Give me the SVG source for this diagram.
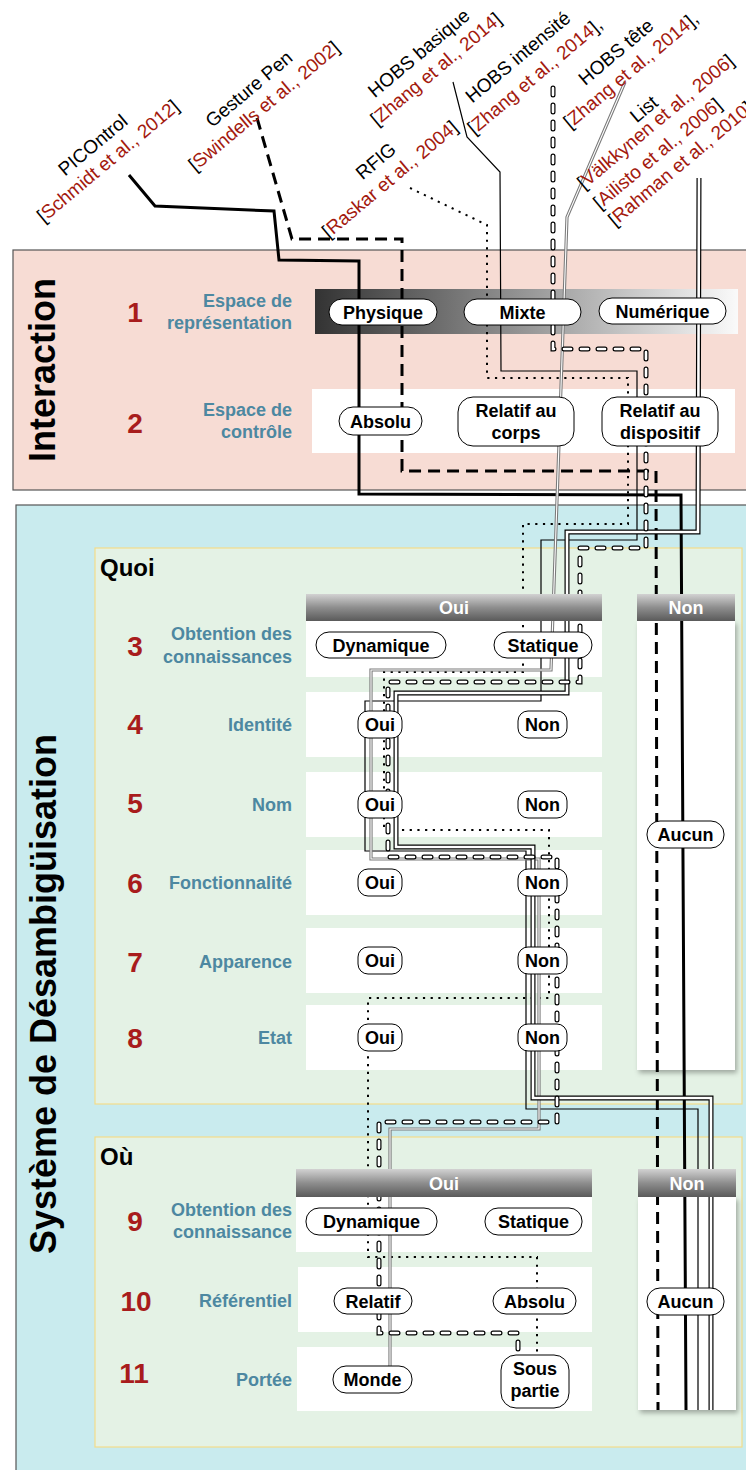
<svg xmlns="http://www.w3.org/2000/svg" xmlns:xlink="http://www.w3.org/1999/xlink" width="746" height="1470" viewBox="0 0 746 1470">
<style>
text{font-family:"Liberation Sans",Arial,sans-serif}
.big{font-size:36px;font-weight:bold;fill:#000;text-anchor:middle}
.sec{font-size:24px;font-weight:bold;fill:#000}
.lbl{font-size:18px;font-weight:bold;fill:#4d88a1;text-anchor:end}
.num{font-size:28px;font-weight:bold;fill:#a81c1c;text-anchor:middle}
.band{fill:#fff}
.node rect{fill:#fff;stroke:#000;stroke-width:1}
.node text{font-size:18px;font-weight:bold;fill:#000;text-anchor:middle}
.hdr rect{fill:url(#hg)}
.hdr text{font-size:18px;font-weight:bold;fill:#fff;text-anchor:middle}
.top text{font-size:19px;fill:#000;text-anchor:middle}
.top text.st{text-anchor:start}
.cit{fill:#a3190e}
.c{fill:none}
.thick{stroke:#000;stroke-width:3}
.tdash{stroke:#000;stroke-width:3;stroke-dasharray:12 7}
.dot{stroke:#000;stroke-width:2;stroke-dasharray:2.2 5.5}
.thin{stroke:#000;stroke-width:1.2}
.holo{stroke:#000;stroke-width:5;stroke-dasharray:7 10;stroke-linecap:round}
.holi{stroke:#fff;stroke-width:2.6;stroke-dasharray:7 10;stroke-linecap:round}
.dblo{stroke:#000;stroke-width:5}
.dbli{stroke:#fff;stroke-width:2.6}
.gryo{stroke:#7a7a7a;stroke-width:3.2}
.gryi{stroke:#fff;stroke-width:1.1}
</style>
<defs>
<linearGradient id="rg" x1="0" y1="0" x2="1" y2="0">
<stop offset="0" stop-color="#333"/><stop offset="1" stop-color="#fafafa"/>
</linearGradient>
<linearGradient id="hg" x1="0" y1="0" x2="0" y2="1">
<stop offset="0" stop-color="#d2d2d2"/><stop offset="0.5" stop-color="#8e8e8e"/><stop offset="1" stop-color="#5a5a5a"/>
</linearGradient>
<filter id="sh" x="-20%" y="-10%" width="140%" height="120%">
<feDropShadow dx="2" dy="3" stdDeviation="2.5" flood-color="#000" flood-opacity="0.3"/>
</filter>
<path id="p-rfig" d="M410,188 L487,225 L487,378 L628,378 L628,524 L523,524 L523,672 L384,672 L384,830 L549,830 L549,998 L368,998 L368,1257 L537,1257 L537,1353"/>
<path id="p-bas" d="M453,82 L467,137 L500,172 L501,371 L637,371 L637,540 L541,540 L541,701 L365,701 L365,851 L526,851 L526,1109 L698,1109 L698,1410"/>
<path id="p-int" d="M553,88 L553,349 L646,349 L646,548 L580,548 L580,682 L388,682 L388,857 L557,857 L557,1122 L379,1122 L379,1333 L518,1333 L518,1355"/>
<path id="p-tete" d="M625,82 L567,217 L551,670 L371,670 L371,859 L539,859 L539,1129 L390,1129 L390,1366"/>
<path id="p-list" d="M699,178 L698,532 L567,532 L567,693 L396,693 L396,847 L533,847 L533,1098 L711,1098 L711,1410"/>
</defs>

<g id="backgrounds">
<rect x="13" y="250" width="760" height="240" fill="#f7dcd4" stroke="#555" stroke-width="1.2"/>
<rect x="16" y="505" width="760" height="1000" fill="#c9ebee" stroke="#555" stroke-width="1.2"/>
<rect x="95" y="548" width="647" height="556" fill="#e4f2e5" stroke="#f3dc8a" stroke-width="1.2"/>
<rect x="95" y="1137" width="647" height="310" fill="#e4f2e5" stroke="#f3dc8a" stroke-width="1.2"/>
</g>

<g id="titles">
<text class="big" transform="translate(55,370) rotate(-90)">Interaction</text>
<text class="big" transform="translate(56,994) rotate(-90)">Système de Désambigüisation</text>
<text class="sec" x="100" y="576">Quoi</text>
<text class="sec" x="100" y="1165">Où</text>
</g>

<g id="row-labels">
<text class="num" x="135" y="322">1</text>
<text class="lbl" x="292" y="307">Espace de</text>
<text class="lbl" x="292" y="329">représentation</text>
<text class="num" x="135" y="433">2</text>
<text class="lbl" x="292" y="416">Espace de</text>
<text class="lbl" x="292" y="438">contrôle</text>
<text class="num" x="135" y="656">3</text>
<text class="lbl" x="292" y="640">Obtention des</text>
<text class="lbl" x="292" y="663">connaissances</text>
<text class="num" x="135" y="734">4</text>
<text class="lbl" x="292" y="731">Identité</text>
<text class="num" x="135" y="813">5</text>
<text class="lbl" x="292" y="811">Nom</text>
<text class="num" x="135" y="893">6</text>
<text class="lbl" x="292" y="889">Fonctionnalité</text>
<text class="num" x="135" y="972">7</text>
<text class="lbl" x="292" y="968">Apparence</text>
<text class="num" x="135" y="1048">8</text>
<text class="lbl" x="292" y="1044">Etat</text>
<text class="num" x="135" y="1231">9</text>
<text class="lbl" x="292" y="1216">Obtention des</text>
<text class="lbl" x="292" y="1238">connaissance</text>
<text class="num" x="136" y="1311">10</text>
<text class="lbl" x="292" y="1307">Référentiel</text>
<text class="num" x="134" y="1383">11</text>
<text class="lbl" x="292" y="1386">Portée</text>
</g>

<g id="bands">
<rect x="315" y="289" width="423" height="45" fill="url(#rg)"/>
<rect class="band" x="312" y="389" width="423" height="64"/>
<rect class="band" x="306" y="621" width="296" height="56"/>
<rect class="band" x="306" y="692" width="296" height="65"/>
<rect class="band" x="306" y="772" width="296" height="65"/>
<rect class="band" x="306" y="850" width="296" height="65"/>
<rect class="band" x="306" y="928" width="296" height="65"/>
<rect class="band" x="306" y="1005" width="296" height="65"/>
<rect class="band" x="637" y="621" width="98" height="449" filter="url(#sh)"/>
<rect class="band" x="296" y="1197" width="296" height="55"/>
<rect class="band" x="298" y="1267" width="294" height="65"/>
<rect class="band" x="297" y="1347" width="295" height="64"/>
<rect class="band" x="638" y="1197" width="98" height="213" filter="url(#sh)"/>
</g>

<g id="connectors">
<path id="c-picontrol" class="c thick" d="M129,175 L155,206 L274,211 L279,260 L359,261 L359,494 L681,495 L686,1410"/>
<path id="c-gesturepen" class="c tdash" d="M257,118 L292,239 L402,239 L402,471 L656,471 L658,1410"/>
<use id="c-rfig" xlink:href="#p-rfig" class="c dot"/>
<use id="c-hobs-basique" xlink:href="#p-bas" class="c thin"/>
<g id="c-hobs-tete"><use xlink:href="#p-tete" class="c gryo"/><use xlink:href="#p-tete" class="c gryi"/></g>
<g id="c-list"><use xlink:href="#p-list" class="c dblo"/><use xlink:href="#p-list" class="c dbli"/></g>
<g id="c-hobs-intensite"><use xlink:href="#p-int" class="c holo"/><use xlink:href="#p-int" class="c holi"/></g>
</g>

<g id="headers">
<g class="hdr" id="h-quoi-oui"><rect x="306" y="594" width="296" height="27"/><text x="454" y="614">Oui</text></g>
<g class="hdr" id="h-quoi-non"><rect x="637" y="594" width="98" height="27"/><text x="686" y="614">Non</text></g>
<g class="hdr" id="h-ou-oui"><rect x="296" y="1169" width="296" height="28"/><text x="444" y="1190">Oui</text></g>
<g class="hdr" id="h-ou-non"><rect x="638" y="1169" width="98" height="28"/><text x="687" y="1190">Non</text></g>
</g>

<g id="nodes">
<g class="node" id="n-physique"><rect x="329" y="299" width="108" height="26" rx="13"/><text x="383" y="318.5">Physique</text></g>
<g class="node" id="n-mixte"><rect x="464" y="299" width="117" height="26" rx="13"/><text x="522.5" y="318.5">Mixte</text></g>
<g class="node" id="n-numerique"><rect x="599" y="298" width="127" height="26" rx="13"/><text x="662.5" y="317.5">Numérique</text></g>
<g class="node" id="n-absolu-ctrl"><rect x="339" y="407" width="83" height="28" rx="14"/><text x="380.5" y="427.5">Absolu</text></g>
<g class="node" id="n-relatif-corps"><rect x="458" y="397" width="116" height="49" rx="15"/><text x="516" y="417">Relatif au</text><text x="516" y="439">corps</text></g>
<g class="node" id="n-relatif-dispositif"><rect x="602" y="397" width="116" height="49" rx="15"/><text x="660" y="417">Relatif au</text><text x="660" y="439">dispositif</text></g>

<g class="node" id="n-q-dynamique"><rect x="316" y="632" width="130" height="26" rx="13"/><text x="381" y="651.5">Dynamique</text></g>
<g class="node" id="n-q-statique"><rect x="494" y="632" width="98" height="26" rx="13"/><text x="543" y="651.5">Statique</text></g>
<g class="node" id="n-identite-oui"><rect x="358" y="711" width="44" height="27" rx="10"/><text x="380" y="731">Oui</text></g>
<g class="node" id="n-identite-non"><rect x="518" y="711" width="49" height="27" rx="10"/><text x="542.5" y="731">Non</text></g>
<g class="node" id="n-nom-oui"><rect x="358" y="791" width="44" height="27" rx="10"/><text x="380" y="811">Oui</text></g>
<g class="node" id="n-nom-non"><rect x="518" y="791" width="49" height="27" rx="10"/><text x="542.5" y="811">Non</text></g>
<g class="node" id="n-fonc-oui"><rect x="358" y="869" width="44" height="27" rx="10"/><text x="380" y="889">Oui</text></g>
<g class="node" id="n-fonc-non"><rect x="518" y="869" width="49" height="27" rx="10"/><text x="542.5" y="889">Non</text></g>
<g class="node" id="n-app-oui"><rect x="358" y="947" width="44" height="27" rx="10"/><text x="380" y="967">Oui</text></g>
<g class="node" id="n-app-non"><rect x="518" y="947" width="49" height="27" rx="10"/><text x="542.5" y="967">Non</text></g>
<g class="node" id="n-etat-oui"><rect x="358" y="1024" width="44" height="27" rx="10"/><text x="380" y="1044">Oui</text></g>
<g class="node" id="n-etat-non"><rect x="518" y="1024" width="49" height="27" rx="10"/><text x="542.5" y="1044">Non</text></g>
<g class="node" id="n-q-aucun"><rect x="647" y="821" width="77" height="27" rx="13"/><text x="685.5" y="841">Aucun</text></g>

<g class="node" id="n-o-dynamique"><rect x="306" y="1208" width="131" height="27" rx="13"/><text x="371.5" y="1228">Dynamique</text></g>
<g class="node" id="n-o-statique"><rect x="485" y="1208" width="97" height="27" rx="13"/><text x="533.5" y="1228">Statique</text></g>
<g class="node" id="n-o-relatif"><rect x="334" y="1288" width="78" height="26" rx="13"/><text x="373" y="1307.5">Relatif</text></g>
<g class="node" id="n-o-absolu"><rect x="493" y="1288" width="83" height="26" rx="13"/><text x="534.5" y="1307.5">Absolu</text></g>
<g class="node" id="n-o-aucun"><rect x="647" y="1288" width="77" height="27" rx="13"/><text x="685.5" y="1308">Aucun</text></g>
<g class="node" id="n-o-monde"><rect x="333" y="1366" width="79" height="27" rx="13"/><text x="372.5" y="1386">Monde</text></g>
<g class="node" id="n-o-souspartie"><rect x="501" y="1355" width="68" height="53" rx="15"/><text x="535" y="1375">Sous</text><text x="535" y="1397">partie</text></g>
</g>

<g id="technique-labels" class="top">
<g id="t-picontrol">
<text transform="translate(97,150) rotate(-40)">PICOntrol</text>
<text transform="translate(112,166) rotate(-40)">[<tspan class="cit">Schmidt et al., 2012</tspan>]</text>
</g>
<g id="t-gesturepen">
<text transform="translate(253,94) rotate(-40)">Gesture Pen</text>
<text transform="translate(268,111) rotate(-40)">[<tspan class="cit">Swindells et al., 2002</tspan>]</text>
</g>
<g id="t-rfig">
<text transform="translate(380,166) rotate(-40)">RFIG</text>
<text transform="translate(394,184) rotate(-40)">[<tspan class="cit">Raskar et al., 2004</tspan>]</text>
</g>
<g id="t-hobs-basique">
<text transform="translate(423,58) rotate(-40)">HOBS basique</text>
<text transform="translate(440,74) rotate(-40)">[<tspan class="cit">Zhang et al., 2014</tspan>]</text>
</g>
<g id="t-hobs-intensite">
<text transform="translate(522,62) rotate(-40)">HOBS intensité</text>
<text transform="translate(539,81) rotate(-40)">[<tspan class="cit">Zhang et al., 2014</tspan>],</text>
</g>
<g id="t-hobs-tete">
<text transform="translate(620,57) rotate(-40)">HOBS tête</text>
<text transform="translate(635,75) rotate(-40)">[<tspan class="cit">Zhang et al., 2014</tspan>],</text>
</g>
<g id="t-list">
<text transform="translate(648,114) rotate(-40)">List</text>
<text class="st" transform="translate(584,190) rotate(-40)">[<tspan class="cit">Välkkynen et al., 2006</tspan>]</text>
<text class="st" transform="translate(600,210) rotate(-40)">[<tspan class="cit">Ailisto et al., 2006</tspan>]</text>
<text class="st" transform="translate(615,227) rotate(-40)">[<tspan class="cit">Rahman et al., 2010</tspan>]</text>
</g>
</g>
</svg>
